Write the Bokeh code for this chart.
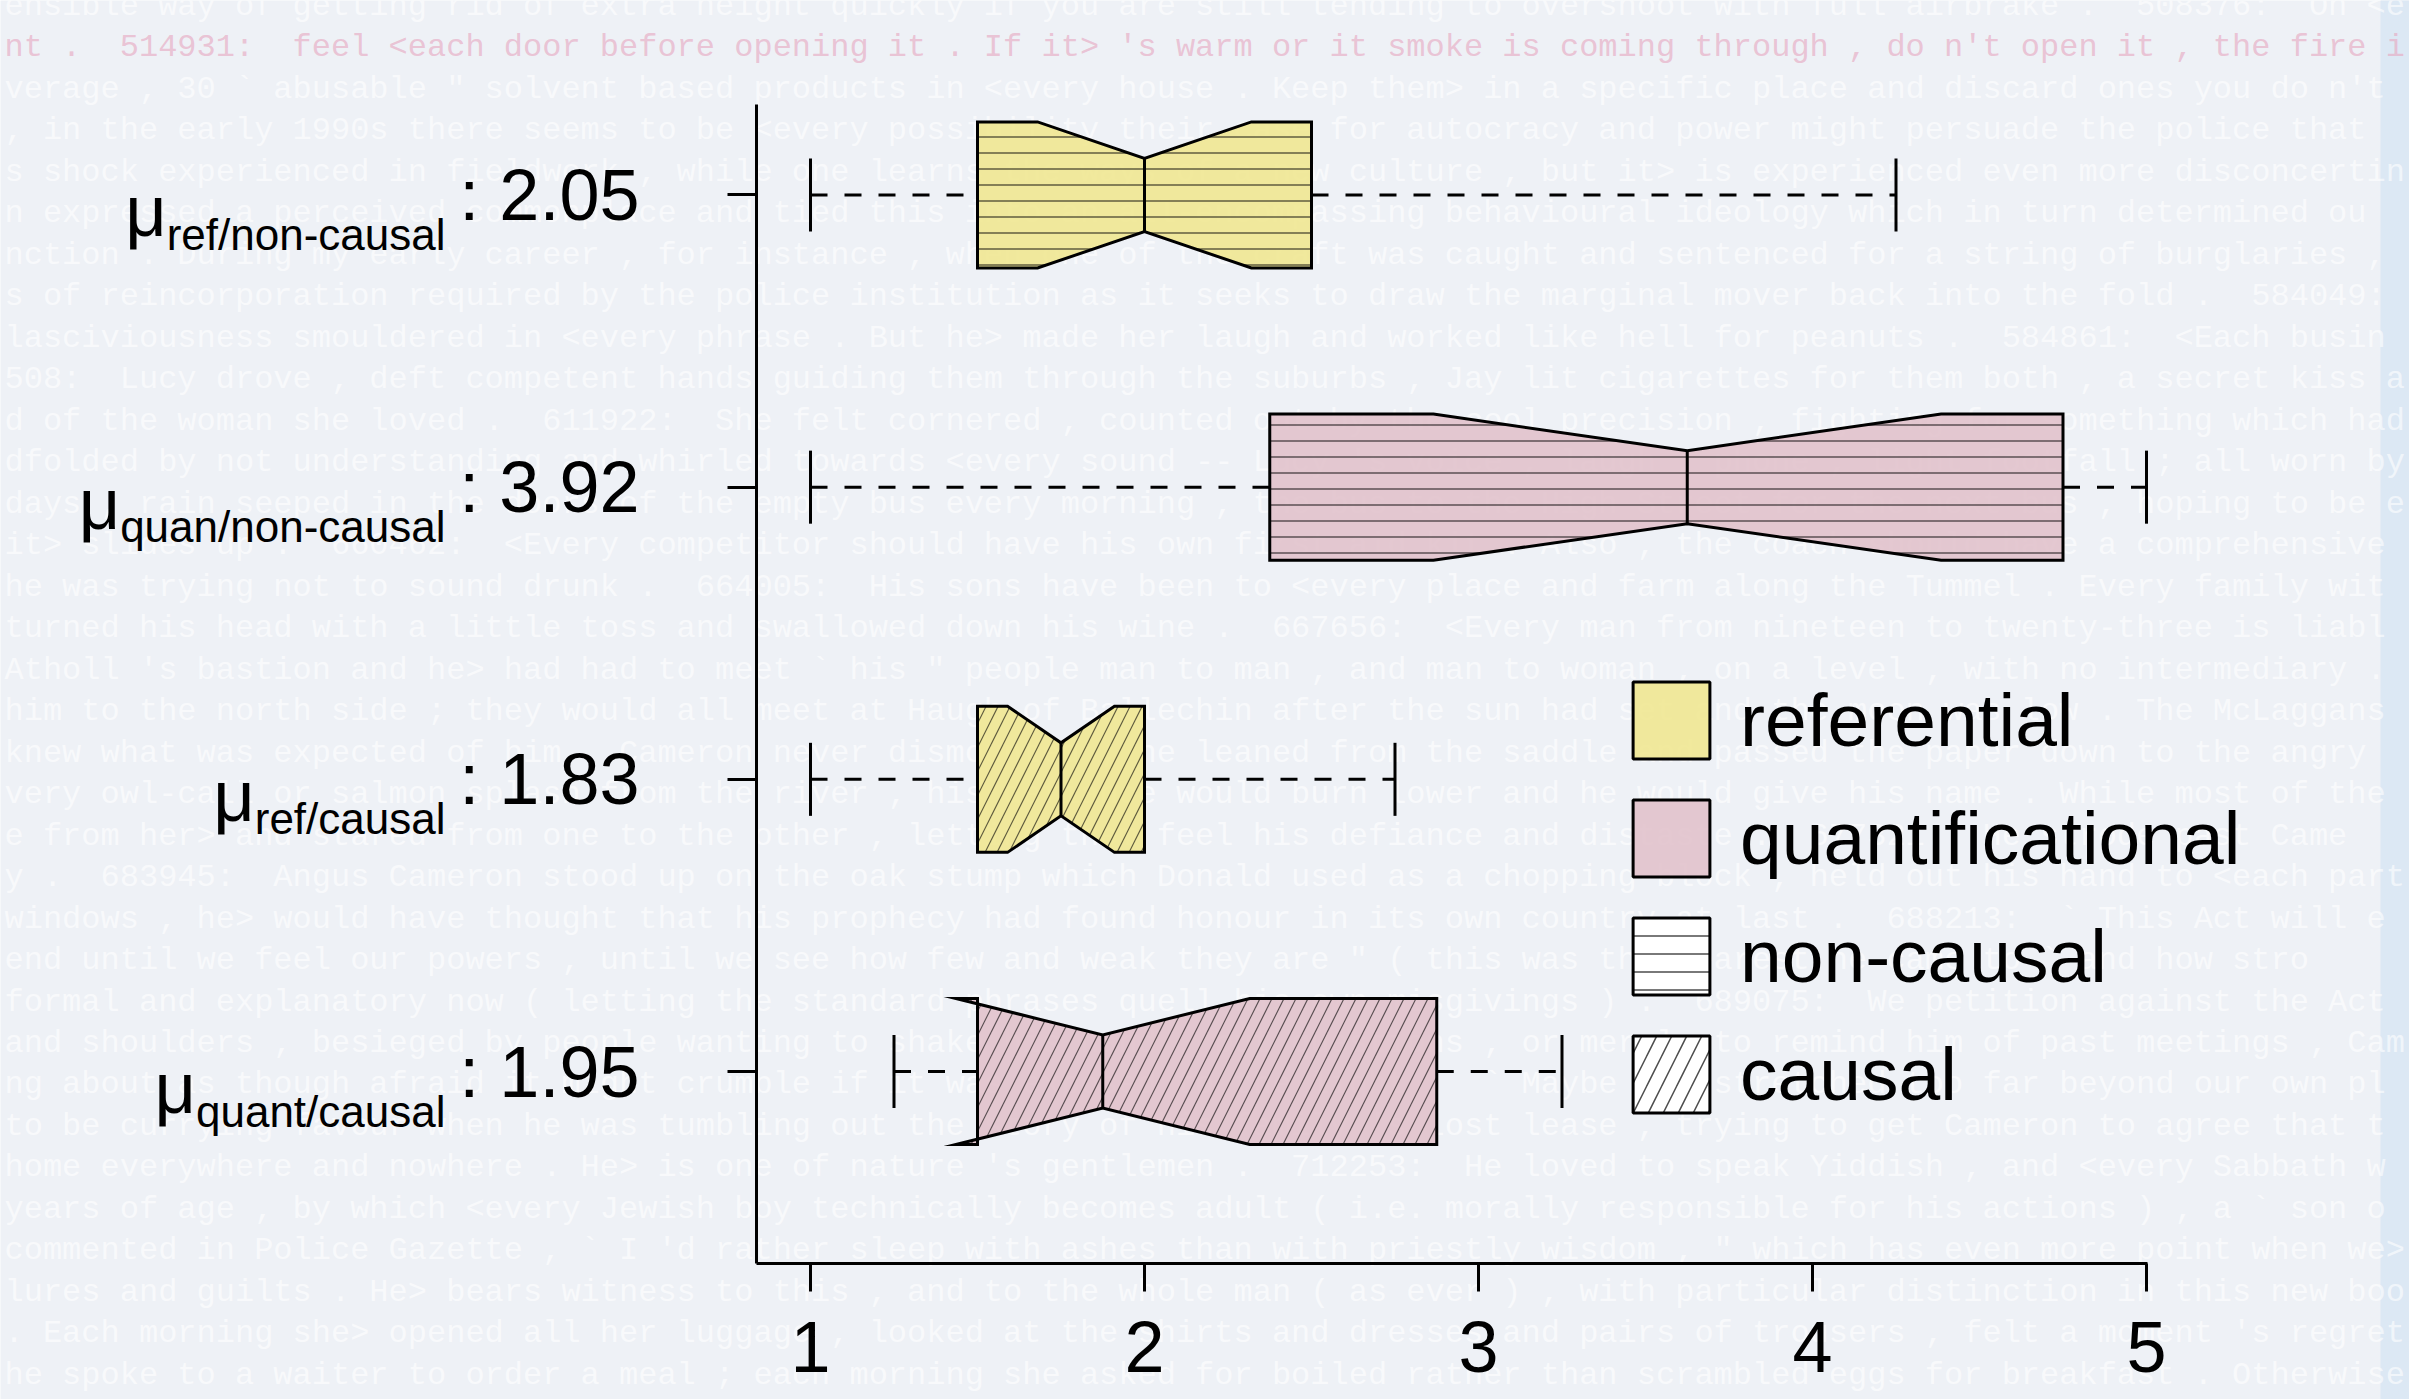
import numpy as np
from bokeh.plotting import figure
from bokeh.models import FixedTicker, Label, Legend, LegendItem, ColumnDataSource, BoxAnnotation
from bokeh.embed import file_html
from bokeh.resources import INLINE

# ---------------- data ----------------
groups = ["ref/non-causal", "quan/non-causal", "ref/causal", "quant/causal"]
means = [2.05, 3.92, 1.83, 1.95]
positions = [4, 3, 2, 1]
lower_whisker = [1.0, 1.0, 1.0, 1.25]
q1 = [1.5, 2.375, 1.5, 1.5]
notch_lo = [1.68, 2.865, 1.59, 1.435]
median = [2.0, 3.625, 1.75, 1.875]
notch_hi = [2.32, 4.385, 1.91, 2.315]
q3 = [2.5, 4.75, 2.0, 2.875]
upper_whisker = [4.25, 5.0, 2.75, 3.25]
kind = ["referential", "quantificational", "referential", "quantificational"]
causality = ["non-causal", "non-causal", "causal", "causal"]
x_ticks = [1, 2, 3, 4, 5]
legend_labels = ["referential", "quantificational", "non-causal", "causal"]

bg_lines = [
    "ensible way of getting rid of extra height quickly if you are still tending to overshoot with full airbrake .  508376:  On <e",
    "nt .  514931:  feel <each door before opening it . If it> 's warm or it smoke is coming through , do n't open it , the fire is",
    "verage , 30 ` abusable \" solvent based products in <every house . Keep them> in a specific place and discard ones you do n't u",
    " , in the early 1990s there seems to be <every possibility their case for autocracy and power might persuade the police that",
    "s shock experienced in fieldwork , while one learns the ways of a new culture , but it> is experienced even more disconcerting",
    "n expressed a perceived commonplace and tied this into an all-encompassing behavioural ideology which in turn determined ou",
    "nction . During my early career , for instance , when one of the craft was caught and sentenced for a string of burglaries ,",
    "s of reincorporation required by the police institution as it seeks to draw the marginal mover back into the fold .  584049:",
    " lasciviousness smouldered in <every phrase . But he> made her laugh and worked like hell for peanuts .  584861:  <Each busine",
    "508:  Lucy drove , deft competent hands guiding them through the suburbs , Jay lit cigarettes for them both , a secret kiss a",
    "d of the woman she loved .  611922:  She felt cornered , counted out by the cool precision , fighting for something which had",
    "dfolded by not understanding and whirled towards <every sound -- Lucy 's voice , laugh , phone , light footfall ; all worn by",
    "days , rain seeped in the doors of the empty bus every morning , the bus to the High Street for the next bus , hoping to be ea",
    " it> slides up .  660462:  <Every competitor should have his own first aid kit . Also , the coach should have a comprehensive",
    " he was trying not to sound drunk .  664005:  His sons have been to <every place and farm along the Tummel . Every family with",
    " turned his head with a little toss and swallowed down his wine .  667656:  <Every man from nineteen to twenty-three is liabl",
    " Atholl 's bastion and he> had had to meet ` his \" people man to man , and man to woman , on a level , with no intermediary .",
    "him to the north side ; they would all meet at Haugh of Ballechin after the sun had set and the moon was low . The McLaggans",
    " knew what was expected of him . Cameron never dismounted ; he leaned from the saddle and passed the paper down to the angry",
    "very owl-call or salmon splash from the river , his defiance would burn lower and he would give his name . While most of the pe",
    "e from her> and stared from one to the other , letting them feel his defiance and distaste .  677321:  He strode past Came",
    "y .  683945:  Angus Cameron stood up on the oak stump which Donald used as a chopping-block , held out his hand to <each part",
    " windows , he> would have thought that his prophecy had found honour in its own country at last .  688213:  ` This Act will en",
    " end until we feel our powers , until we see how few and weak they are \" ( this was the nearest he came to ` and how stro",
    " formal and explanatory now ( letting the standard phrases quell his own misgivings ) .  689075:  We petition against the Act",
    "and shoulders , besieged by people wanting to shake his hand , put questions , or merely to remind him of past meetings , Came",
    "ng about as though afraid it might crumble if it was exposed to the light .  ` Maybe we> stretched too far beyond our own pl",
    " to be currying favour when he was tumbling out the story of his family 's lost lease , trying to get Cameron to agree that th",
    " home everywhere and nowhere . He> is one of nature 's gentlemen .  712253:  He loved to speak Yiddish , and <every Sabbath we",
    " years of age , by which <every Jewish boy technically becomes adult ( i.e. morally responsible for his actions ) , a ` son o",
    "commented in Police Gazette , ` I 'd rather sleep with ashes than with priestly wisdom , \" which has even more point when we>",
    "lures and guilts . He> bears witness to this , and to the whole man ( as ever ) , with particular distinction in this new boo",
    ". Each morning she> opened all her luggage , looked at the shirts and dresses and pairs of trousers , felt a moment 's regret",
    "he spoke to a waiter to order a meal ; each morning she asked for boiled rather than scrambled eggs for breakfast . Otherwise",
]
pink_line_index = 1

# ---------------- style / layout ----------------
BG = "#eef1f6"
FONT = "Liberation Sans"
fill_map = {"referential": "#f0e68c", "quantificational": "#e0bfc9"}
hatch_map = {"non-causal": "-", "causal": "/"}
W, H = 2409, 1399
# pixel -> data helpers; the frame is the whole canvas
PXU_X, PXU_Y = 334.0, 292.17
X1_PX, Y1_PX = 810.0, 1071.0
AX_L, AX_R, AX_T, AX_B = 756, 2147, 104, 1263   # where the L-shaped axes sit


def fx(px):
    return 1 + (px - X1_PX) / PXU_X


def fy(py):
    return 1 + (Y1_PX - py) / PXU_Y


HALF = 0.25      # half box height
WAIST = 0.125    # half waist at median
CAP = 0.125      # half staple

p = figure(width=W, height=H, x_range=(fx(0), fx(W)), y_range=(fy(H), fy(0)),
           output_backend="svg", toolbar_location=None,
           min_border=0, min_border_left=0, min_border_right=0, min_border_top=0, min_border_bottom=0,
           background_fill_color=BG, border_fill_color=BG, outline_line_color=None)
p.xgrid.visible = False
p.ygrid.visible = False

# right-hand light blue band and background text (behind everything)
p.add_layout(BoxAnnotation(left=fx(2380), right=fx(2470), bottom=fy(1460), top=fy(-60),
                           fill_color="#dce8f4", fill_alpha=1.0, line_alpha=0, level="underlay"))
CHAR_W = 19.2
X0 = 4
max_chars = int((W - X0 - 2) / CHAR_W)
for k, line in enumerate(bg_lines):
    txt = line[:max_chars].replace("  ", " \u00a0")
    col = "#e7a9c2" if k == pink_line_index else "white"
    alp = 0.65 if k == pink_line_index else 0.6
    p.add_layout(Label(x=fx(X0), y=fy(6 + 41.48 * k), text=txt, text_font="Liberation Mono",
                       text_font_size="32px", text_color=col, text_alpha=alp,
                       text_align="left", text_baseline="middle", level="underlay"))

# ---------------- boxes ----------------
xs, ys = [], []
for i, pos in enumerate(positions):
    xs.append([q1[i], notch_lo[i], median[i], notch_hi[i], q3[i],
               q3[i], notch_hi[i], median[i], notch_lo[i], q1[i]])
    ys.append([pos + HALF, pos + HALF, pos + WAIST, pos + HALF, pos + HALF,
               pos - HALF, pos - HALF, pos - WAIST, pos - HALF, pos - HALF])
src = ColumnDataSource(dict(xs=xs, ys=ys,
                            fill=[fill_map[k] for k in kind],
                            hatch=[hatch_map[c] for c in causality],
                            hscale=[16 if c == "non-causal" else 24 for c in causality],
                            hweight=[2 if c == "non-causal" else 1.2 for c in causality],
                            halpha=[0.45 if c == "non-causal" else 0.6 for c in causality]))
p.patches("xs", "ys", source=src, fill_color="fill", fill_alpha=0.85,
          hatch_pattern="hatch", hatch_color="black", hatch_alpha="halpha",
          hatch_scale="hscale", hatch_weight="hweight",
          line_color="black", line_width=3, line_join="miter")

pos_arr = np.array(positions, dtype=float)
# medians
p.segment(x0=median, y0=pos_arr - WAIST, x1=median, y1=pos_arr + WAIST, line_color="black", line_width=3)
# whiskers
p.segment(x0=lower_whisker, y0=pos_arr, x1=q1, y1=pos_arr, line_color="black", line_width=3, line_dash="17 17")
p.segment(x0=q3, y0=pos_arr, x1=upper_whisker, y1=pos_arr, line_color="black", line_width=3, line_dash="17 17")
# staples
p.segment(x0=lower_whisker, y0=pos_arr - CAP, x1=lower_whisker, y1=pos_arr + CAP, line_color="black", line_width=3)
p.segment(x0=upper_whisker, y0=pos_arr - CAP, x1=upper_whisker, y1=pos_arr + CAP, line_color="black", line_width=3)

# ---------------- axes (L-shaped, fixed inside the canvas-wide frame) ----------------
for ax in (p.xaxis[0], p.yaxis[0]):
    ax.axis_line_width = 3
    ax.axis_line_color = "black"
    ax.major_tick_line_width = 3
    ax.major_tick_in = 0
    ax.minor_tick_line_color = None
    ax.major_label_text_font = FONT
    ax.major_label_text_font_size = "72px"
    ax.major_label_text_color = "black"
p.xaxis.fixed_location = fy(AX_B)
p.xaxis.bounds = (fx(AX_L), fx(AX_R))
p.xaxis.ticker = FixedTicker(ticks=x_ticks)
p.xaxis.major_tick_out = 28
p.xaxis.major_label_standoff = 30
p.yaxis.fixed_location = fx(AX_L)
p.yaxis.bounds = (fy(AX_B), fy(AX_T))
p.yaxis.ticker = FixedTicker(ticks=positions)
p.yaxis.major_tick_out = 29
p.yaxis.major_label_standoff = 88
p.yaxis.major_label_overrides = {pos: ": %.2f" % m for pos, m in zip(positions, means)}

# mu with subscripts (Helvetica/Arial advance widths, per 1000 em)
adv = {"a": 556, "c": 500, "e": 556, "f": 278, "l": 222, "n": 556, "o": 556, "q": 556,
       "r": 333, "s": 500, "t": 278, "u": 556, "/": 278, "-": 333}
SUB_RIGHT = 445
MU_DROP, SUB_DROP = 16.5, 39.5   # px below the tick for the baselines
for g, pos in zip(groups, positions):
    subw = sum(adv.get(ch, 556) for ch in g) / 1000.0 * 44
    p.add_layout(Label(x=fx(SUB_RIGHT), y=pos - SUB_DROP / PXU_Y, text=g, text_font=FONT,
                       text_font_size="44px", text_color="black", text_align="right",
                       text_baseline="alphabetic"))
    p.add_layout(Label(x=fx(SUB_RIGHT - subw), y=pos - MU_DROP / PXU_Y, text="\u03bc", text_font=FONT,
                       text_font_size="72px", text_color="black", text_align="right",
                       text_baseline="alphabetic"))

# ---------------- legend ----------------
leg_fill = ["#f0e68c", "#e0bfc9", "white", "white"]
leg_hatch = [None, None, "-", "/"]
items = []
for lab, fc, hp in zip(legend_labels, leg_fill, leg_hatch):
    kw = dict(fill_color=fc, fill_alpha=0.85 if fc != "white" else 1.0, line_color="black", line_width=3)
    if hp:
        kw.update(hatch_pattern=hp, hatch_color="black", hatch_alpha=0.7,
                  hatch_scale=30 if hp == "/" else 18, hatch_weight=1.5)
    r = p.quad(left=[np.nan], right=[np.nan], top=[np.nan], bottom=[np.nan], **kw)
    items.append(LegendItem(label=lab, renderers=[r]))
# area swatches are inset by 10% on each side, hence 96px glyph boxes for 77px squares
legend = Legend(items=items, location=(1623, H - 1122), orientation="vertical",
                glyph_width=96, glyph_height=96, label_height=86, spacing=22, padding=0, margin=0,
                label_standoff=21, label_text_font=FONT, label_text_font_size="75px",
                label_text_baseline="middle", label_text_color="black",
                border_line_color=None, background_fill_alpha=0)
p.add_layout(legend)

open("out.html", "w").write(file_html(p, INLINE))
